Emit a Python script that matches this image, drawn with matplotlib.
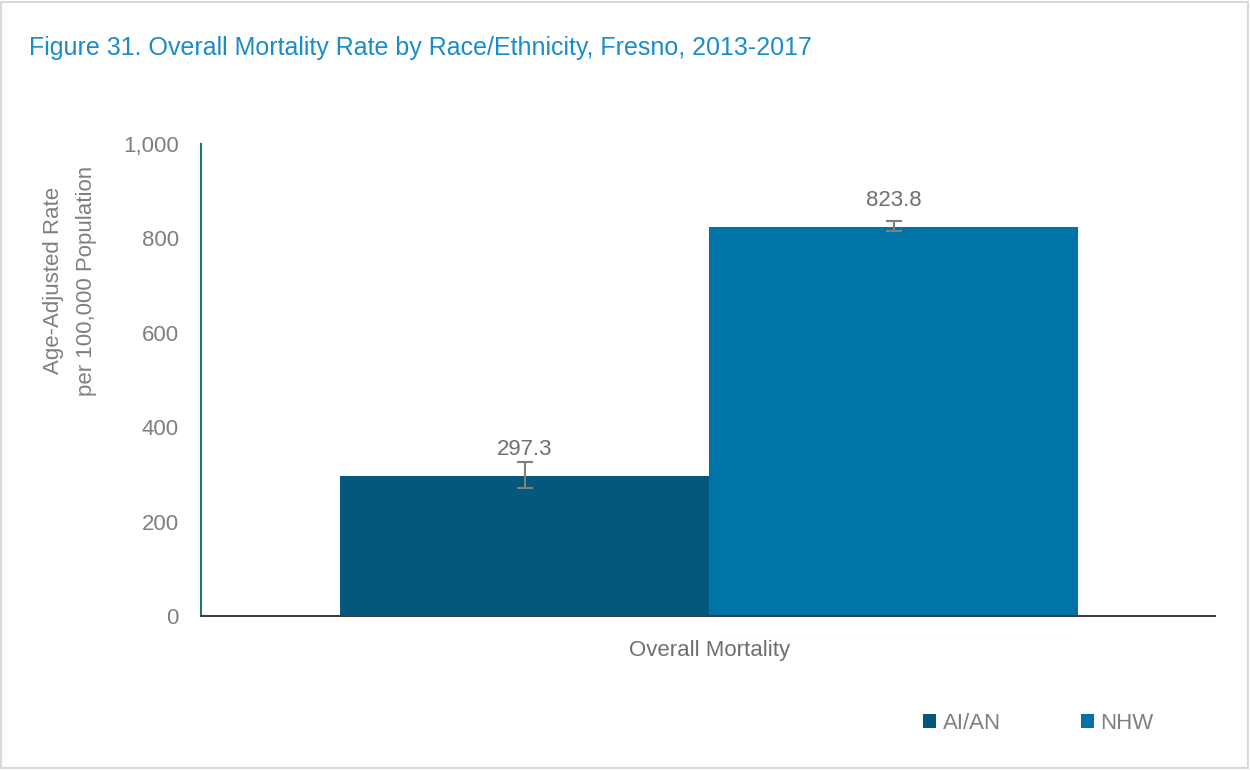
import matplotlib
matplotlib.use("Agg")
import matplotlib.pyplot as plt
import matplotlib.ticker as mticker
from matplotlib.patches import Rectangle
import numpy as np

# =====================================================
# DADOS
# =====================================================

grupos = ["AI/AN", "NHW"]
taxas = [297.3, 823.8]
ic_inferior = [271.0, 816.0]
ic_superior = [326.0, 837.0]
categoria = "Overall Mortality"

cores = ["#03587c", "#0073a8"]
cinza = "#7f7f7f"

plt.rcParams["font.family"] = ["Liberation Sans", "DejaVu Sans"]

fig = plt.figure(figsize=(12.5, 7.7), dpi=100)
ax = fig.add_axes([0.1608, 0.2, 0.8112, 0.613])

# borda externa
fig.patches.append(Rectangle((0.001, 0.002), 0.997, 0.996, transform=fig.transFigure,
                             fill=False, edgecolor="#d9d9d9", linewidth=1.5))

# =====================================================
# BARRAS
# =====================================================

xpos = np.array([-0.5, 0.5])
ax.bar(xpos, taxas, width=1.0, color=cores, label=grupos, zorder=2)

erro = [np.array(taxas) - np.array(ic_inferior), np.array(ic_superior) - np.array(taxas)]
ax.errorbar(xpos, taxas, yerr=erro, fmt="none", ecolor=cinza, elinewidth=1.5,
            capsize=6, capthick=1.5, zorder=3)

for x, v in zip(xpos, taxas):
    ax.annotate(f"{v:.1f}", xy=(x, v), xytext=(0, 19), textcoords="offset points",
                ha="center", va="center", fontsize=16, color="#6f6f6f")

# =====================================================
# EIXOS
# =====================================================

ax.set_xlim(-1.377, 1.371)
ax.set_ylim(0, 1000)
ax.yaxis.set_major_locator(mticker.MultipleLocator(200))
ax.yaxis.set_major_formatter(mticker.StrMethodFormatter("{x:,.0f}"))
ax.tick_params(axis="y", length=0, labelsize=16, labelcolor=cinza, pad=16)
ax.set_xticks([0])
ax.set_xticklabels([categoria])
ax.tick_params(axis="x", length=0, labelsize=16, labelcolor="#6f6f6f", pad=17)

for lado in ["top", "right"]:
    ax.spines[lado].set_visible(False)
ax.spines["left"].set_color("#1b7a6a")
ax.spines["left"].set_linewidth(1.5)
ax.spines["bottom"].set_color("#404040")
ax.spines["bottom"].set_linewidth(1.5)

ax.set_ylabel("Age-Adjusted Rate\nper 100,000 Population", fontsize=16,
              color=cinza, linespacing=1.75)
ax.yaxis.set_label_coords(-0.103, 0.71)

# =====================================================
# TITULO E LEGENDA
# =====================================================

fig.text(0.0232, 0.938, "Figure 31. Overall Mortality Rate by Race/Ethnicity, Fresno, 2013-2017",
         fontsize=18, color="#1a8ccc", ha="left", va="center")

leg = fig.legend(loc="center left", bbox_to_anchor=(0.722, 0.061), ncol=2, frameon=False,
                 fontsize=16, handlelength=0.6, handleheight=0.6, columnspacing=3.6,
                 handletextpad=0.3)
for t in leg.get_texts():
    t.set_color(cinza)

fig.savefig("out.png", dpi=100)
